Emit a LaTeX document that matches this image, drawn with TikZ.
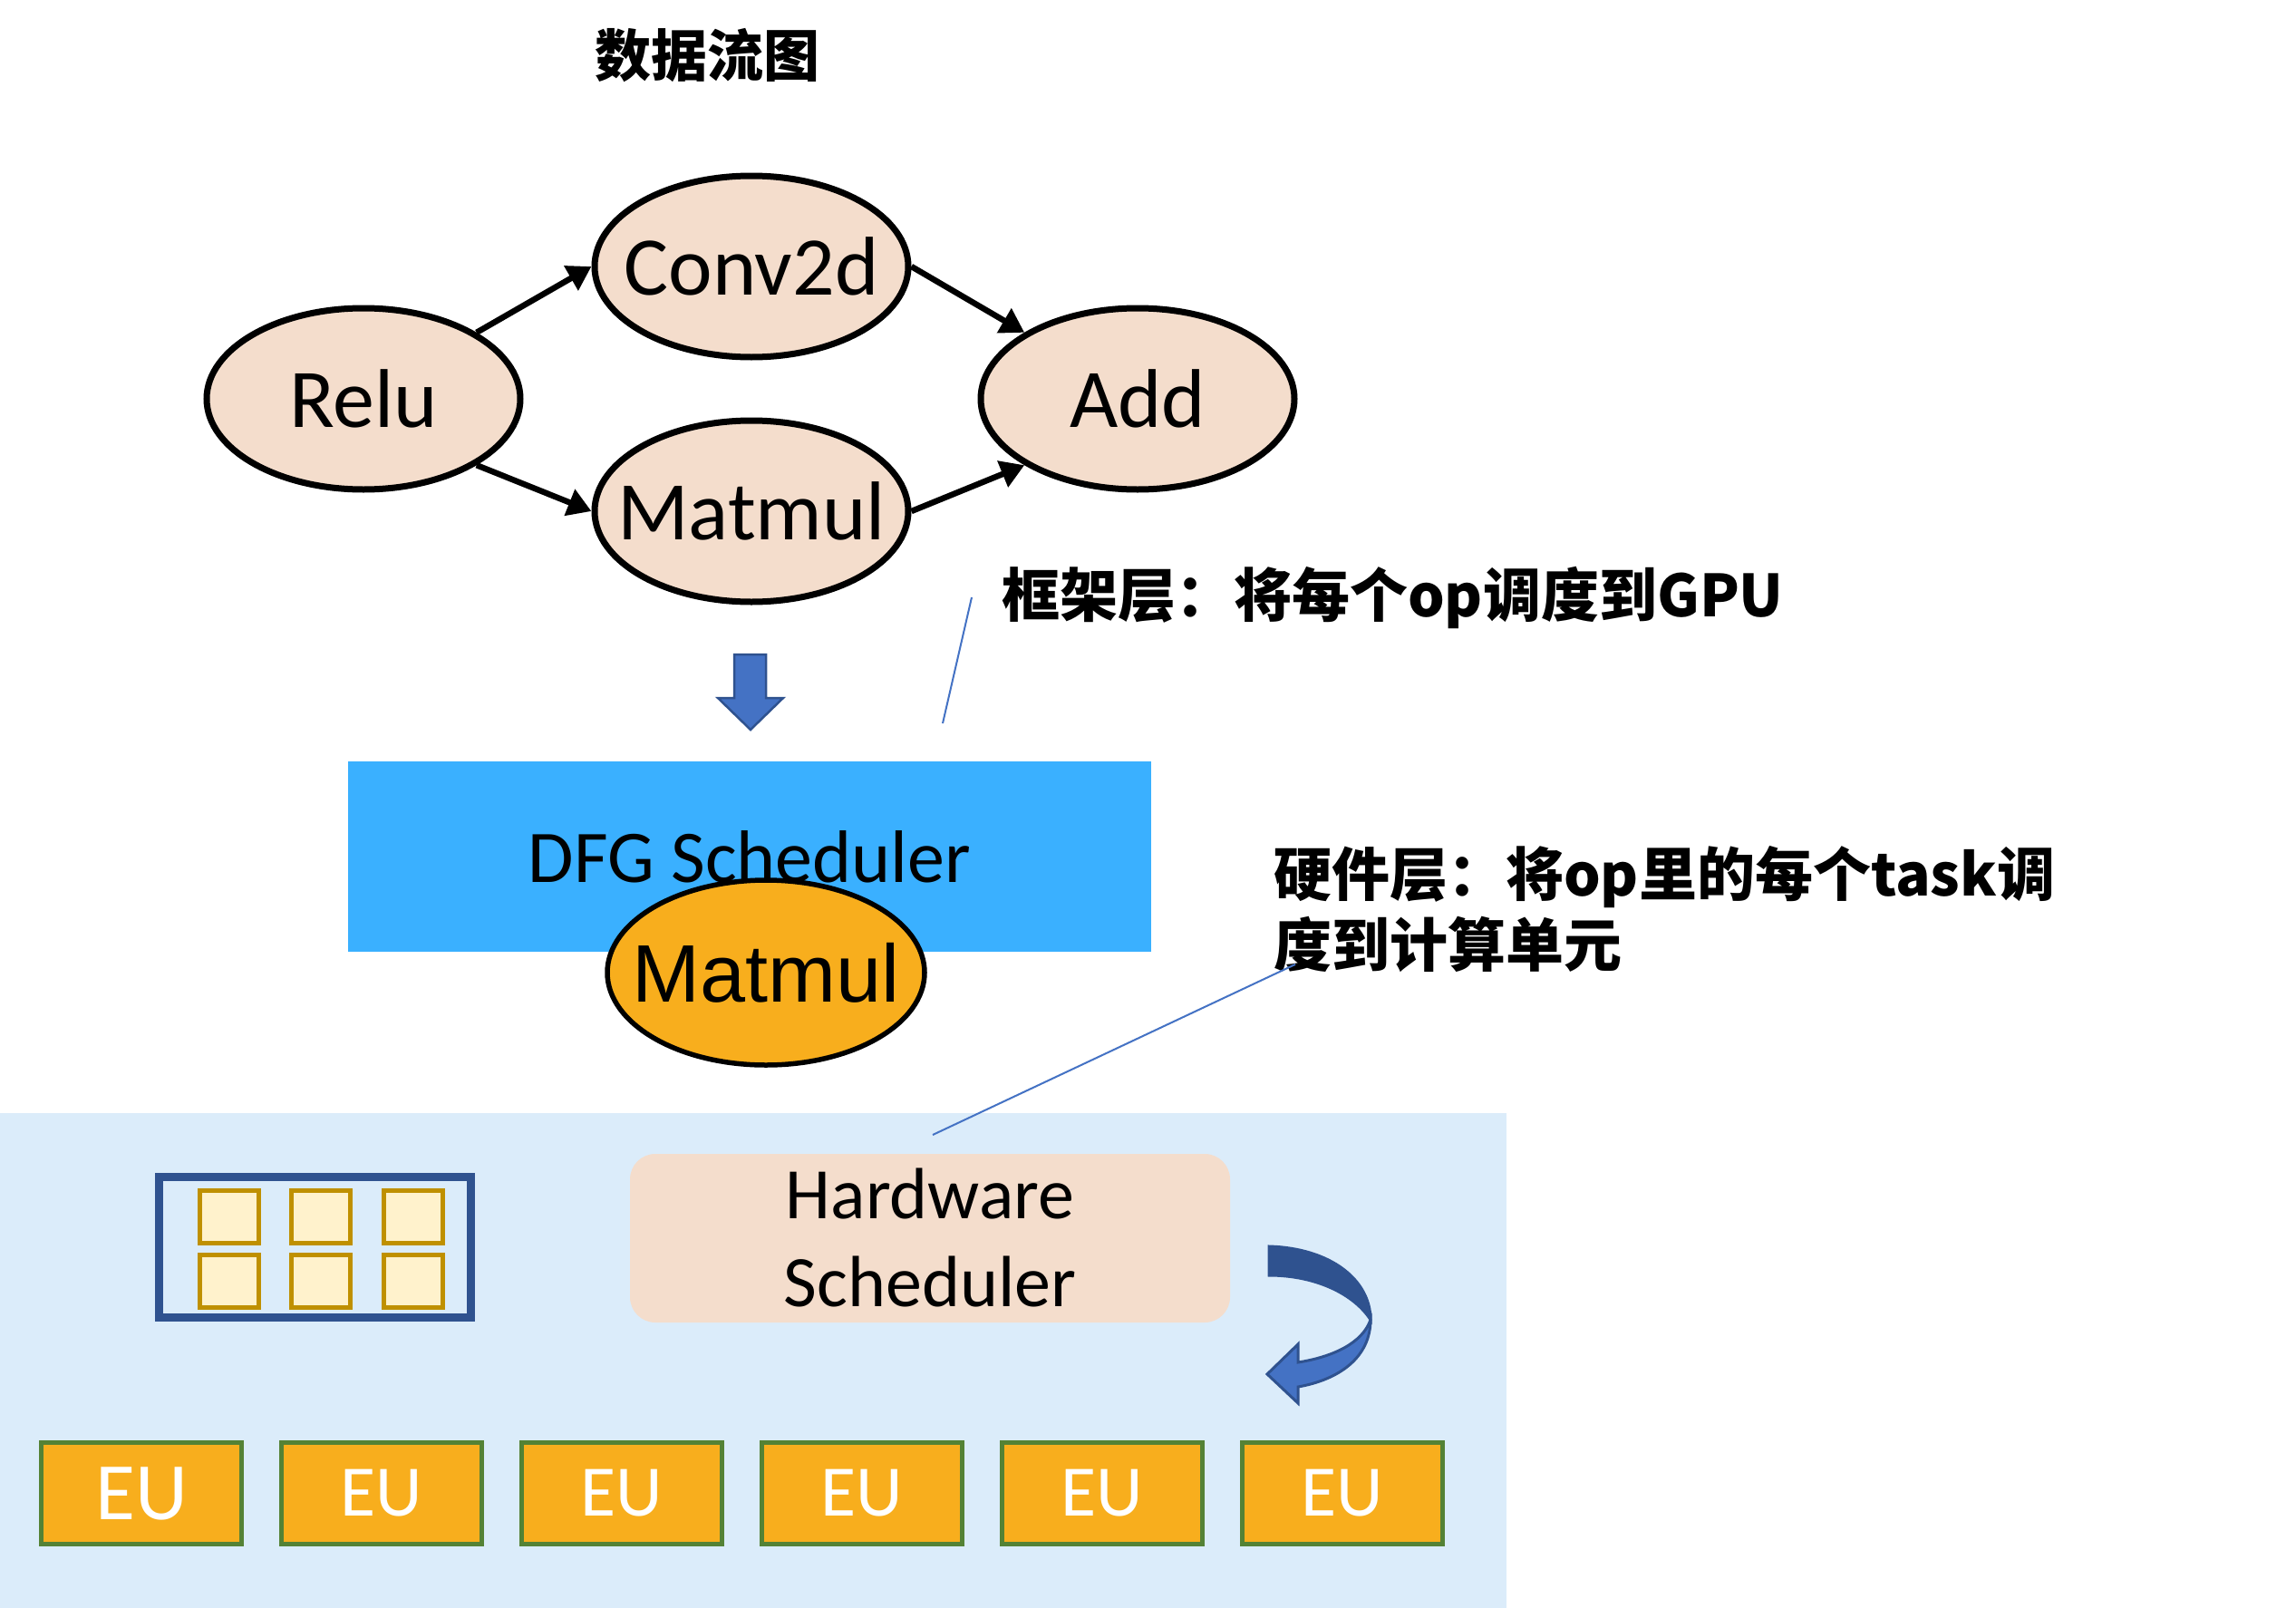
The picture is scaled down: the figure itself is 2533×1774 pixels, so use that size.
\documentclass[tikz,border=0pt]{standalone}
\usepackage{fontspec}
\setmainfont{Carlito}
\newfontfamily\cjk{Noto Sans CJK SC}
\newfontfamily\arial{Liberation Sans}
\usetikzlibrary{arrows.meta,shapes.geometric,positioning}

\definecolor{peach}{RGB}{244,221,204}
\definecolor{dfgblue}{RGB}{58,176,255}
\definecolor{oporange}{RGB}{248,174,29}
\definecolor{hwbg}{RGB}{219,236,250}
\definecolor{darkblue}{RGB}{47,82,143}
\definecolor{midblue}{RGB}{68,114,196}
\definecolor{gold}{RGB}{191,144,0}
\definecolor{taskfill}{RGB}{255,242,204}
\definecolor{eugreen}{RGB}{84,130,53}

\begin{document}
\begin{tikzpicture}[x=1pt,y=-1pt]
				\tikzstyle{op} = [ellipse, draw, line width=7pt, fill=peach, minimum width=346pt, minimum height=200pt, inner xsep=-45pt, font=\fontsize{92}{110}\selectfont]
				\tikzstyle{line} = [draw, line width=6.5pt, -{Triangle[length=26pt,width=30pt]}]
				\tikzstyle{note} = [align=left, inner sep=0pt, font=\cjk\bfseries\fontsize{64}{78}\selectfont]
				\tikzstyle{pin} = [draw=midblue, line width=2pt]
				\tikzstyle{task} = [rectangle, draw=gold, fill=taskfill, line width=5pt, minimum width=65pt, minimum height=58pt]
				\tikzstyle{eu} = [rectangle, draw=eugreen, fill=oporange, line width=5pt, minimum width=221pt, minimum height=112pt, text=white, font=\fontsize{80}{96}\selectfont]

				\useasboundingbox (0,0) rectangle (2533,1774);
				\fill[white] (0,0) rectangle (2533,1774);
				\fill[hwbg] (0,1228) rectangle (1662,1774);

				% Datenflussgraph
				\node[font=\cjk\bfseries\fontsize{62}{74}\selectfont] (title) at (780,61) {数据流图};
				\node[op] (relu) at (401,440) {Relu};
				\node[op] (conv) at (829,294) {Conv2d};
				\node[op, below of=conv, node distance=270pt] (matmul) {Matmul};
				\node[op, right of=relu, node distance=854pt] (add) {Add};
				\path [line] (relu.north east) -- (conv.west);
				\path [line] (relu.south east) -- (matmul.west);
				\path [line] (conv.east) -- (add.north west);
				\path [line] (matmul.east) -- (add.south west);

				\filldraw[fill=midblue, draw=darkblue, line width=2.5pt] (810,722) -- (845,722) -- (845,770) -- (864,770) -- (828,805) -- (792,770) -- (810,770) -- cycle;

				\node[rectangle, fill=dfgblue, minimum width=886pt, minimum height=210pt, inner sep=0pt, font=\fontsize{82}{98}\selectfont] (dfg) at (827,945) {DFG Scheduler};
				\node[op, fill=oporange, line width=5.5pt, minimum width=350pt, minimum height=204pt, font=\arial\fontsize{90}{108}\selectfont] (sel) at (845,1073) {Matmul};

				\node[note, anchor=west] (fwnote) at (1105,659) {框架层：将每个op调度到GPU};
				\coordinate (fwpin) at (1040,798);
				\path[pin] ([xshift=-33pt]fwnote.west) -- (fwpin);

				\node[note, anchor=west] (hwnote) at (1405,1003) {硬件层：将op里的每个task调\\度到计算单元};
				\coordinate (hwpin) at (1029,1252);
				\path[pin] ([shift={(24,-9)}]hwnote.south west) -- (hwpin);

				% Hardware-Ebene
				\node[draw=darkblue, line width=9pt, minimum width=344pt, minimum height=155pt] (queue) at (347.5,1376) {};
				\foreach \c/\x in {1/252.5,2/354,3/456}
					\foreach \r/\y in {1/1342,2/1413}
						\node[task] (t\c\r) at (\x,\y) {};
				\node[rectangle, rounded corners=28pt, fill=peach, minimum width=662pt, minimum height=186pt, align=center, font=\fontsize{80}{97}\selectfont] (hws) at (1026,1366) {Hardware\\Scheduler};

				\filldraw[fill=darkblue, draw=darkblue, line width=3pt] (1400,1375) .. controls (1468,1377) and (1512,1412) .. (1512,1456) .. controls (1494,1428) and (1452,1407) .. (1400,1407) -- cycle;
				\filldraw[fill=midblue, draw=darkblue, line width=3pt] (1512,1456) .. controls (1512,1497) and (1478,1522) .. (1432,1530) -- (1432,1548) -- (1398,1516) -- (1432,1483) -- (1432,1503) .. controls (1470,1497) and (1503,1482) .. (1512,1456) -- cycle;

				\node[eu, font=\fontsize{90}{108}\selectfont] (eu0) at (156,1647.5) {EU};
				\foreach \i in {1,...,5}
					\node[eu] (eu\i) at (156+265*\i,1647.5) {EU};
			\end{tikzpicture}
\end{document}
